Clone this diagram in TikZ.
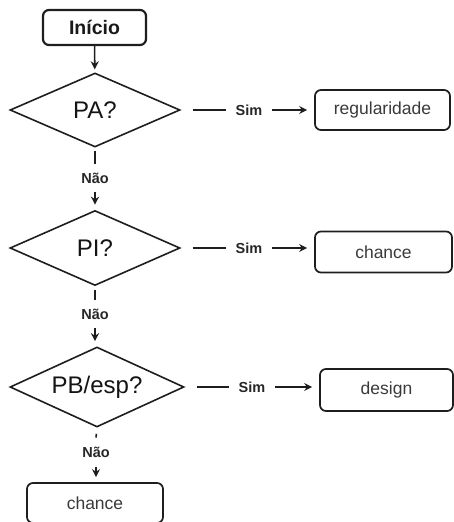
\documentclass[tikz,border=0pt]{standalone}
\usepackage{fontspec}
\setmainfont{Liberation Sans}
\usetikzlibrary{shapes.geometric,arrows.meta}
\definecolor{ln}{HTML}{1E1E1E}
\definecolor{tx}{HTML}{3A3A3A}
\begin{document}
\begin{tikzpicture}[x=1pt,y=-1pt,
  dec/.style={diamond,aspect=2.2,draw=ln,line width=1.6pt,inner sep=0pt,
    font=\fontsize{24}{26}\selectfont,text=black!92},
  box/.style={draw=ln,line width=1.7pt,rounded corners=6pt,
    font=\fontsize{17.5}{19}\selectfont,text=tx,inner sep=0pt},
  seg/.style={draw=ln,line width=1.6pt},
  conn/.style={seg,-{Stealth[length=8pt,width=8pt]}},
  lab/.style={inner xsep=10pt,inner ysep=2pt,
    font=\bfseries\fontsize{14.5}{16}\selectfont,text=black!85},
  nao/.style={inner xsep=2pt,inner ysep=9pt,
    font=\bfseries\fontsize{14.5}{16}\selectfont,text=black!85}]
\useasboundingbox (0,0) rectangle (453,522);
\node[box,line width=2.2pt,font=\bfseries\fontsize{19.5}{21}\selectfont,text=black!90,
  minimum width=103pt,minimum height=35pt] (ini) at (94.5,27.5) {Início};
\node[dec,minimum width=170pt,minimum height=74pt] (pa) at (95,110) {PA?};
\node[dec,minimum width=170pt,minimum height=75pt] (pi) at (95,248) {PI?};
\node[dec,minimum width=174pt,minimum height=80pt] (pb) at (97,387) {PB/esp?};
\node[box,minimum width=135pt,minimum height=40pt] (reg) at (382.5,110) {regularidade};
\node[box,minimum width=137pt,minimum height=41pt] (ch1) at (383.5,252) {chance};
\node[box,minimum width=133pt,minimum height=42pt] (des) at (386.5,390) {design};
\node[box,minimum width=136pt,minimum height=40pt] (ch2) at (95,503) {chance};
% Sim labels
\node[lab] (s1) at (249,110) {Sim};
\node[lab] (s2) at (249,248) {Sim};
\node[lab] (s3) at (252,387) {Sim};
% Não labels
\node[nao] (n1) at (95,178) {Não};
\node[nao] (n2) at (95,314) {Não};
\node[nao] (n3) at (96,452) {Não};
% connectors
\draw[conn,shorten >=3pt] (ini) -- (pa);
\draw[seg,shorten <=12pt] (pa.east) -- (s1.west);
\draw[conn,shorten >=7pt] (s1.east) -- (s1.east -| reg.west);
\draw[seg,shorten <=12pt] (pi.east) -- (s2.west);
\draw[conn,shorten >=7pt] (s2.east) -- (s2.east -| ch1.west);
\draw[seg,shorten <=12pt] (pb.east) -- (s3.west);
\draw[conn,shorten >=7pt] (s3.east) -- (s3.east -| des.west);
\draw[seg,shorten <=3pt] (pa.south) -- (n1.north);
\draw[conn,shorten >=5pt] (n1.south) -- (pi.north);
\draw[seg,shorten <=4pt] (pi.south) -- (n2.north);
\draw[conn,shorten >=5pt] (n2.south) -- (n2.south |- pb.north);
\draw[seg,shorten <=6pt] (pb.south) -- (n3.north);
\draw[conn,shorten >=5pt] (n3.south) -- (n3.south |- ch2.north);
\end{tikzpicture}
\end{document}
